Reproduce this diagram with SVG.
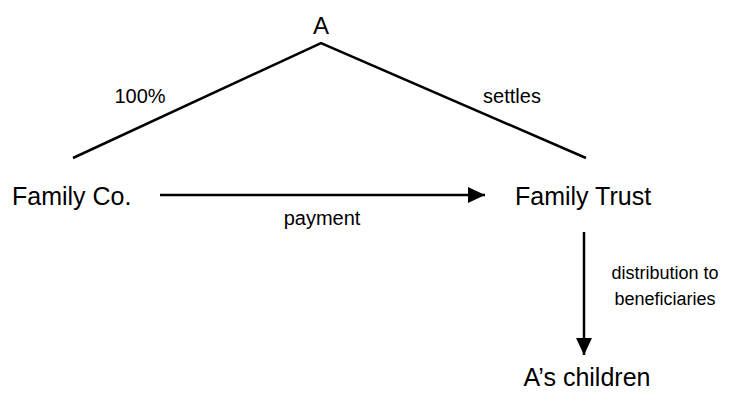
<svg xmlns="http://www.w3.org/2000/svg" width="742" height="394" viewBox="0 0 742 394">
<style>
text{font-family:"Liberation Sans",Arial,sans-serif;fill:#000}
.big{font-size:25px}
.sm{font-size:20px}
.ds{font-size:18px}
.ln{stroke:#000;stroke-width:2.5;fill:none}
</style>
<defs>
<marker id="ah" markerUnits="userSpaceOnUse" markerWidth="18" markerHeight="16" refX="17" refY="8" orient="auto">
<path d="M0,0 L17,8 L0,16 Z" fill="#000"/>
</marker>
</defs>
<rect width="742" height="394" fill="#fff"/>
<g id="connectors">
<polyline class="ln" points="73,158 321,43 586,158"/>
<line class="ln" x1="160" y1="195" x2="485" y2="195" marker-end="url(#ah)"/>
<line class="ln" x1="584" y1="232" x2="584" y2="355" marker-end="url(#ah)"/>
<text class="sm" x="140" y="103" text-anchor="middle">100%</text>
<text class="sm" x="512" y="103" text-anchor="middle">settles</text>
<text class="sm" x="322" y="225" text-anchor="middle">payment</text>
<text class="ds" x="665" y="279" text-anchor="middle">distribution to</text>
<text class="ds" x="665" y="305" text-anchor="middle">beneficiaries</text>
</g>
<g id="node-A"><text x="321" y="34" text-anchor="middle" style="font-size:24px">A</text></g>
<g id="node-familyco"><text class="big" x="12" y="205">Family Co.</text></g>
<g id="node-familytrust"><text class="big" x="515" y="205">Family Trust</text></g>
<g id="node-children"><text class="big" x="587" y="386" text-anchor="middle">A’s children</text></g>
</svg>
